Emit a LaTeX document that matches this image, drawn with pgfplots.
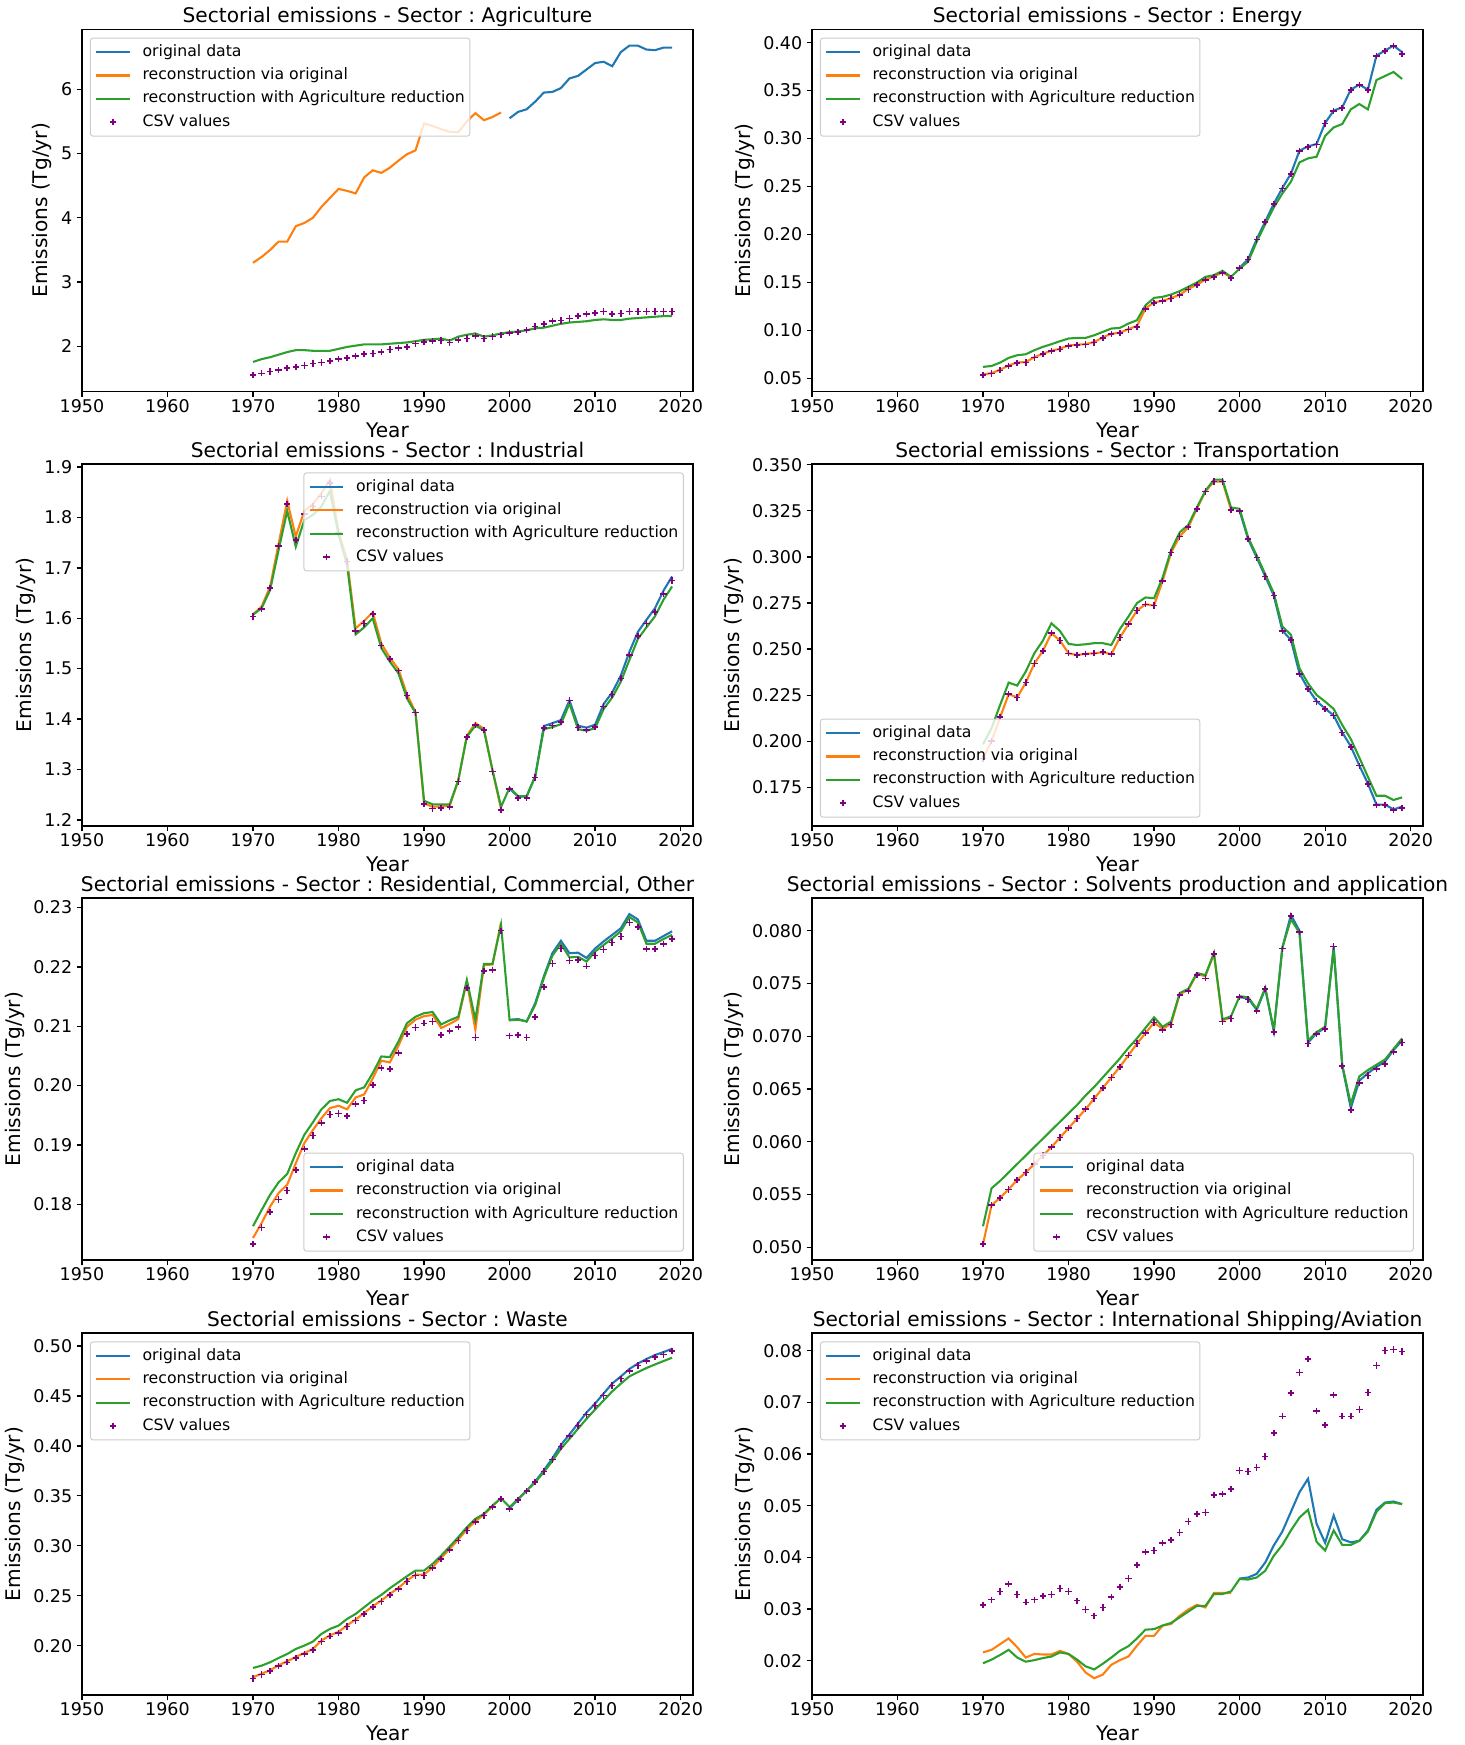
\documentclass[border=0pt]{standalone}
\usepackage{fontspec}
\setmainfont{DejaVu Sans}
\usepackage{pgfplots}
\usepackage{pgfplotstable}
\pgfplotsset{compat=1.18}
\frenchspacing
\definecolor{mblue}{HTML}{1F77B4}
\definecolor{morange}{HTML}{FF7F0E}
\definecolor{mgreen}{HTML}{2CA02C}
\definecolor{mpurple}{HTML}{800080}
\definecolor{legframe}{HTML}{CCCCCC}

\pgfplotsset{
  panel/.style={
    scale only axis, width=440pt, height=260.6pt, anchor=north west,
    xmin=1950, xmax=2021.45, xtick={1950,1960,1970,1980,1990,2000,2010,2020},
    tick align=outside, tick pos=left, major tick length=3.9pt,
    every tick/.style={black, line width=0.9pt},
    axis line style={line width=0.9pt},
    scaled ticks=false,
    /pgf/number format/assume math mode=true,
    xticklabel style={/pgf/number format/set thousands separator={}, inner ysep=1.5pt},
    yticklabel style={inner xsep=2.9pt},
    tick label style={font=\fontsize{12.6}{14}\selectfont},
    label style={font=\fontsize{14.5}{16}\selectfont},
    title style={font=\fontsize{14.5}{16}\selectfont, at={(0.5,1)}, anchor=base, yshift=-1.2pt},
    xlabel={Year}, ylabel={Emissions (Tg/yr)},
    xlabel style={at={(axis description cs:0.5,0)}, anchor=base, yshift=-33pt},
    legend cell align=left,
    legend image code/.code={\draw[mark repeat=2,mark phase=2,#1] plot coordinates {(0cm,0cm) (0.42cm,0cm) (0.84cm,0cm)};},
    legend style={draw=legframe, line width=0.7pt, rounded corners=2pt, fill=white, fill opacity=0.8, text opacity=1,
      font=\fontsize{11.3}{13}\selectfont, inner xsep=3.6pt, inner ysep=4.6pt, row sep=5.8pt, column sep=8.6pt,
      nodes={inner sep=0pt, text height=8.5pt, text depth=2.5pt}},
  },
  legUL/.style={legend style={at={(0.013,0.977)}, anchor=north west}},
  legUR/.style={legend style={at={(0.985,0.977)}, anchor=north east}},
  legLL/.style={legend style={at={(0.013,0.023)}, anchor=south west}},
  legLR/.style={legend style={at={(0.985,0.023)}, anchor=south east}},
  ln/.style={line width=1.5pt},
  csvm/.style={mpurple, only marks, mark=+, mark size=2.3pt, line width=1.1pt},
}

\pgfplotstableread{
yr csv grn org blu
1970 1.55 1.756 3.30 nan
1971 1.58 1.80 3.39 nan
1972 1.61 1.83 3.50 nan
1973 1.63 1.87 3.63 nan
1974 1.66 1.91 3.63 nan
1975 1.68 1.94 3.87 nan
1976 1.70 1.94 3.92 nan
1977 1.73 1.93 4.00 nan
1978 1.75 1.93 4.17 nan
1979 1.77 1.93 4.31 nan
1980 1.80 1.96 4.45 nan
1981 1.82 1.99 4.42 nan
1982 1.85 2.01 4.38 nan
1983 1.88 2.03 4.63 nan
1984 1.89 2.03 4.74 nan
1985 1.91 2.03 4.70 nan
1986 1.95 2.04 4.78 nan
1987 1.97 2.05 4.89 nan
1988 1.99 2.06 4.99 nan
1989 2.04 2.08 5.05 nan
1990 2.07 2.10 5.47 nan
1991 2.08 2.11 5.43 nan
1992 2.09 2.12 5.38 nan
1993 2.06 2.09 5.34 nan
1994 2.10 2.15 5.33 nan
1995 2.12 2.18 5.50 nan
1996 2.16 2.20 5.63 nan
1997 2.12 2.15 5.52 nan
1998 2.15 2.17 5.57 nan
1999 2.18 2.20 5.64 nan
2000 2.21 2.22 nan 5.55
2001 2.22 2.23 nan 5.65
2002 2.25 2.25 nan 5.69
2003 2.31 2.28 nan 5.81
2004 2.35 2.29 nan 5.95
2005 2.39 2.32 nan 5.96
2006 2.40 2.35 nan 6.02
2007 2.43 2.37 nan 6.17
2008 2.47 2.38 nan 6.21
2009 2.50 2.39 nan 6.31
2010 2.52 2.41 nan 6.41
2011 2.54 2.42 nan 6.43
2012 2.50 2.41 nan 6.36
2013 2.51 2.41 nan 6.58
2014 2.54 2.43 nan 6.68
2015 2.54 2.44 nan 6.68
2016 2.54 2.45 nan 6.62
2017 2.54 2.46 nan 6.61
2018 2.54 2.47 nan 6.65
2019 2.54 2.47 nan 6.65
}\tAgri

\pgfplotstableread{
yr csv grn org blu
1970 0.0534 0.0618 0.0540 nan
1971 0.0548 0.0628 0.0553 nan
1972 0.0583 0.0663 0.0588 nan
1973 0.0628 0.0712 0.0633 nan
1974 0.0660 0.0740 0.0665 nan
1975 0.0663 0.0750 0.0668 nan
1976 0.0715 0.0792 0.0720 nan
1977 0.0750 0.0827 0.0755 nan
1978 0.0782 0.0855 0.0787 nan
1979 0.0802 0.0886 0.0807 nan
1980 0.0837 0.0914 0.0842 nan
1981 0.0844 0.0921 0.0849 nan
1982 0.0851 0.0921 0.0856 nan
1983 0.0872 0.0948 0.0877 nan
1984 0.0921 0.0983 0.0926 nan
1985 0.0959 0.1018 0.0964 nan
1986 0.0969 0.1025 0.0974 nan
1987 0.1008 0.1070 0.1013 nan
1988 0.1036 0.1105 0.1045 nan
1989 0.1223 0.1261 0.1228 nan
1990 0.1286 0.1338 0.1291 nan
1991 0.1303 0.1349 0.1308 nan
1992 0.1331 0.1373 0.1336 nan
1993 0.1366 0.1408 0.1371 nan
1994 0.1425 0.1453 0.1430 nan
1995 0.1470 0.1498 0.1475 nan
1996 0.1523 0.1557 0.1528 nan
1997 0.1557 0.1575 0.1562 nan
1998 0.1599 0.1620 0.1604 nan
1999 0.1547 0.1557 0.1552 nan
2000 0.1651 0.1644 nan 0.1653
2001 0.1738 0.1716 nan 0.1741
2002 0.1947 0.1923 nan 0.1950
2003 0.2131 0.2107 nan 0.2135
2004 0.2316 0.2281 nan 0.2320
2005 0.2479 0.2427 nan 0.2483
2006 0.2629 0.2549 nan 0.2633
2007 0.2869 0.2751 nan 0.2873
2008 0.2914 0.2793 nan 0.2918
2009 0.2939 0.2810 nan 0.2943
2010 0.3158 0.3026 nan 0.3162
2011 0.3287 0.3116 nan 0.3291
2012 0.3321 0.3151 nan 0.3325
2013 0.3506 0.3304 nan 0.3510
2014 0.3558 0.3360 nan 0.3562
2015 0.3506 0.3304 nan 0.3510
2016 0.3861 0.3610 nan 0.3865
2017 0.3913 0.3652 nan 0.3917
2018 0.3965 0.3694 nan 0.3969
2019 0.3882 0.3621 nan 0.3900
}\tEner

\pgfplotstableread{
yr csv grn org blu
1970 1.6035 1.607 1.608 nan
1971 1.6187 1.620 1.623 nan
1972 1.6598 1.656 1.663 nan
1973 1.7438 1.736 1.748 nan
1974 1.8272 1.813 1.833 nan
1975 1.7557 1.742 1.762 nan
1976 1.8073 1.795 1.813 nan
1977 1.822 1.805 1.827 nan
1978 1.842 1.822 1.848 nan
1979 1.868 1.853 1.875 nan
1980 1.769 1.766 1.772 nan
1981 1.713 1.706 1.716 nan
1982 1.575 1.568 1.580 nan
1983 1.590 1.582 1.595 nan
1984 1.608 1.600 1.612 nan
1985 1.546 1.541 1.550 nan
1986 1.519 1.514 1.522 nan
1987 1.496 1.491 1.499 nan
1988 1.447 1.441 1.449 nan
1989 1.413 1.412 1.414 nan
1990 1.232 1.238 1.233 nan
1991 1.223 1.231 1.226 nan
1992 1.224 1.231 1.227 nan
1993 1.226 1.231 1.228 nan
1994 1.276 1.279 1.278 nan
1995 1.364 1.365 1.367 nan
1996 1.388 1.387 1.392 nan
1997 1.378 1.378 1.381 nan
1998 1.296 1.299 1.298 nan
1999 1.220 1.226 1.222 nan
2000 1.261 1.264 nan 1.262
2001 1.243 1.247 nan 1.246
2002 1.244 1.247 nan 1.247
2003 1.284 1.286 nan 1.287
2004 1.382 1.380 nan 1.386
2005 1.387 1.384 nan 1.392
2006 1.394 1.390 nan 1.398
2007 1.437 1.431 nan 1.437
2008 1.383 1.380 nan 1.387
2009 1.378 1.377 nan 1.383
2010 1.384 1.382 nan 1.389
2011 1.425 1.420 nan 1.430
2012 1.449 1.443 nan 1.453
2013 1.481 1.474 nan 1.486
2014 1.527 1.517 nan 1.533
2015 1.565 1.559 nan 1.573
2016 1.590 1.582 nan 1.597
2017 1.613 1.604 nan 1.620
2018 1.648 1.637 nan 1.655
2019 1.675 1.663 nan 1.683
}\tIndu

\pgfplotstableread{
yr csv grn org blu
1970 0.1907 0.1983 0.1907 nan
1971 0.2001 0.2070 0.2001 nan
1972 0.2130 0.2197 0.2130 nan
1973 0.2255 0.2318 0.2255 nan
1974 0.2238 0.2302 0.2238 nan
1975 0.2318 0.2378 0.2318 nan
1976 0.2421 0.2477 0.2421 nan
1977 0.2490 0.2546 0.2490 nan
1978 0.2586 0.2640 0.2586 nan
1979 0.2546 0.2598 0.2546 nan
1980 0.2477 0.2528 0.2477 nan
1981 0.2468 0.2522 0.2468 nan
1982 0.2474 0.2526 0.2474 nan
1983 0.2477 0.2532 0.2477 nan
1984 0.2483 0.2532 0.2483 nan
1985 0.2472 0.2522 0.2472 nan
1986 0.2562 0.2608 0.2562 nan
1987 0.2635 0.2676 0.2635 nan
1988 0.2709 0.2749 0.2709 nan
1989 0.2743 0.2780 0.2743 nan
1990 0.2736 0.2776 0.2736 nan
1991 0.2870 0.2888 0.2870 nan
1992 0.3024 0.3038 0.3024 nan
1993 0.3111 0.3133 0.3111 nan
1994 0.3161 0.3174 0.3161 nan
1995 0.3261 0.3268 0.3261 nan
1996 0.3355 0.3359 0.3355 nan
1997 0.3409 0.3419 0.3409 nan
1998 0.3409 0.3419 0.3409 nan
1999 0.3256 0.3268 0.3256 nan
2000 0.3250 0.3261 nan 0.3250
2001 0.3096 0.3105 nan 0.3096
2002 0.2997 0.3008 nan 0.2997
2003 0.2894 0.2906 nan 0.2894
2004 0.2790 0.2803 nan 0.2790
2005 0.2598 0.2622 nan 0.2600
2006 0.2550 0.2578 nan 0.2550
2007 0.2365 0.2396 nan 0.2368
2008 0.2283 0.2314 nan 0.2285
2009 0.2215 0.2251 nan 0.2217
2010 0.2175 0.2215 nan 0.2177
2011 0.2139 0.2175 nan 0.2140
2012 0.2046 0.2088 nan 0.2048
2013 0.1970 0.2012 nan 0.1972
2014 0.1867 0.1911 nan 0.1868
2015 0.1768 0.1807 nan 0.1770
2016 0.1654 0.1704 nan 0.1656
2017 0.1654 0.1704 nan 0.1656
2018 0.1626 0.1681 nan 0.1630
2019 0.1639 0.1695 nan 0.1645
}\tTran

\pgfplotstableread{
yr csv grn org blu
1970 0.1733 0.1763 0.1743 nan
1971 0.1761 0.1790 0.1768 nan
1972 0.1787 0.1816 0.1796 nan
1973 0.1808 0.1837 0.1819 nan
1974 0.1823 0.1851 0.1833 nan
1975 0.1858 0.1886 0.1869 nan
1976 0.1893 0.1917 0.1903 nan
1977 0.1916 0.1938 0.1925 nan
1978 0.1937 0.1960 0.1945 nan
1979 0.1951 0.1974 0.1962 nan
1980 0.1953 0.1977 0.1966 nan
1981 0.1949 0.1971 0.1960 nan
1982 0.1969 0.1992 0.1980 nan
1983 0.1975 0.1997 0.1985 nan
1984 0.2001 0.2021 0.2012 nan
1985 0.2030 0.2049 0.2042 nan
1986 0.2028 0.2048 0.2039 nan
1987 0.2055 0.2074 0.2067 nan
1988 0.2087 0.2105 0.2099 nan
1989 0.2098 0.2116 0.2111 nan
1990 0.2105 0.2122 0.2117 nan
1991 0.2108 0.2124 0.2119 nan
1992 0.2085 0.2103 0.2097 nan
1993 0.2092 0.2110 0.2104 nan
1994 0.2099 0.2116 0.2112 nan
1995 0.2164 0.2178 0.2175 nan
1996 0.2081 0.2111 0.2094 nan
1997 0.2193 0.2205 0.2203 nan
1998 0.2195 0.2205 0.2204 nan
1999 0.2261 0.2271 0.2275 nan
2000 0.2084 0.2110 nan 0.2111
2001 0.2085 0.2111 nan 0.2112
2002 0.2081 0.2108 nan 0.2108
2003 0.2116 0.2136 nan 0.2139
2004 0.2166 0.2181 nan 0.2184
2005 0.2206 0.2219 nan 0.2223
2006 0.2231 0.2239 nan 0.2244
2007 0.2211 0.2216 nan 0.2223
2008 0.2212 0.2217 nan 0.2224
2009 0.2201 0.2209 nan 0.2215
2010 0.2219 0.2226 nan 0.2231
2011 0.2229 0.2237 nan 0.2243
2012 0.2241 0.2248 nan 0.2254
2013 0.2251 0.2260 nan 0.2265
2014 0.2275 0.2284 nan 0.2289
2015 0.2267 0.2275 nan 0.2280
2016 0.2230 0.2239 nan 0.2244
2017 0.2230 0.2239 nan 0.2244
2018 0.2239 0.2247 nan 0.2252
2019 0.2247 0.2254 nan 0.2260
}\tResi

\pgfplotstableread{
yr csv grn org blu
1970 0.0503 0.0520 0.0503 nan
1971 0.0540 0.0556 0.0540 nan
1972 0.0547 0.0563 0.0547 nan
1973 0.0555 0.0571 0.0555 nan
1974 0.0564 0.0579 0.0564 nan
1975 0.0571 0.0587 0.0571 nan
1976 0.0579 0.0595 0.0579 nan
1977 0.0587 0.0603 0.0587 nan
1978 0.0595 0.0611 0.0595 nan
1979 0.0604 0.0619 0.0604 nan
1980 0.0613 0.0627 0.0613 nan
1981 0.0622 0.0635 0.0622 nan
1982 0.0631 0.0644 0.0631 nan
1983 0.0641 0.0652 0.0641 nan
1984 0.0651 0.0661 0.0651 nan
1985 0.0661 0.0670 0.0661 nan
1986 0.0671 0.0679 0.0671 nan
1987 0.0682 0.0689 0.0682 nan
1988 0.0693 0.0698 0.0693 nan
1989 0.0703 0.0708 0.0703 nan
1990 0.0713 0.0718 0.0713 nan
1991 0.0706 0.0709 0.0707 nan
1992 0.0711 0.0714 0.0712 nan
1993 0.0739 0.0741 0.0740 nan
1994 0.0743 0.0745 0.0744 nan
1995 0.0758 0.0760 0.0759 nan
1996 0.0755 0.0758 0.0757 nan
1997 0.0778 0.0779 0.0778 nan
1998 0.0714 0.0716 0.0715 nan
1999 0.0717 0.0719 0.0718 nan
2000 0.0737 0.0738 nan 0.0737
2001 0.0735 0.0737 nan 0.0736
2002 0.0724 0.0726 nan 0.0725
2003 0.0745 0.0746 nan 0.0745
2004 0.0704 0.0706 nan 0.0705
2005 0.0783 0.0784 nan 0.0784
2006 0.0814 0.0811 nan 0.0815
2007 0.0799 0.0798 nan 0.0800
2008 0.0693 0.0696 nan 0.0694
2009 0.0702 0.0704 nan 0.0703
2010 0.0707 0.0709 nan 0.0708
2011 0.0785 0.0783 nan 0.0785
2012 0.0672 0.0673 nan 0.0672
2013 0.0630 0.0636 nan 0.0632
2014 0.0656 0.0662 nan 0.0658
2015 0.0663 0.0668 nan 0.0665
2016 0.0669 0.0673 nan 0.0671
2017 0.0674 0.0678 nan 0.0676
2018 0.0685 0.0688 nan 0.0687
2019 0.0694 0.0698 nan 0.0696
}\tSolv

\pgfplotstableread{
yr csv grn org blu
1970 0.1673 0.1777 0.1683 nan
1971 0.1710 0.1800 0.1720 nan
1972 0.1744 0.1834 0.1754 nan
1973 0.1794 0.1877 0.1804 nan
1974 0.1834 0.1917 0.1844 nan
1975 0.1877 0.1967 0.1887 nan
1976 0.1917 0.2001 0.1927 nan
1977 0.1957 0.2041 0.1967 nan
1978 0.2041 0.2118 0.2051 nan
1979 0.2094 0.2168 0.2104 nan
1980 0.2128 0.2201 0.2138 nan
1981 0.2194 0.2268 0.2204 nan
1982 0.2251 0.2318 0.2261 nan
1983 0.2318 0.2385 0.2328 nan
1984 0.2385 0.2452 0.2395 nan
1985 0.2442 0.2508 0.2452 nan
1986 0.2508 0.2575 0.2518 nan
1987 0.2568 0.2635 0.2578 nan
1988 0.2642 0.2695 0.2652 nan
1989 0.2702 0.2752 0.2712 nan
1990 0.2702 0.2752 0.2712 nan
1991 0.2776 0.2819 0.2786 nan
1992 0.2869 0.2902 0.2879 nan
1993 0.2959 0.2993 0.2969 nan
1994 0.3053 0.3086 0.3063 nan
1995 0.3153 0.3186 0.3163 nan
1996 0.3236 0.3270 0.3246 nan
1997 0.3303 0.3320 0.3313 nan
1998 0.3387 0.3403 0.3397 nan
1999 0.3470 0.3477 0.3480 nan
2000 0.3370 0.3387 nan 0.3375
2001 0.3460 0.3470 nan 0.3465
2002 0.3547 0.3554 nan 0.3552
2003 0.3637 0.3637 nan 0.3645
2004 0.3744 0.3738 nan 0.3755
2005 0.3864 0.3848 nan 0.3875
2006 0.3995 0.3971 nan 0.4010
2007 0.4098 0.4071 nan 0.4115
2008 0.4205 0.4172 nan 0.4225
2009 0.4315 0.4272 nan 0.4335
2010 0.4405 0.4365 nan 0.4425
2011 0.4506 0.4456 nan 0.4525
2012 0.4606 0.4546 nan 0.4625
2013 0.4673 0.4623 nan 0.4695
2014 0.4750 0.4696 nan 0.4770
2015 0.4806 0.4739 nan 0.4825
2016 0.4850 0.4780 nan 0.4870
2017 0.4890 0.4816 nan 0.4910
2018 0.4917 0.4850 nan 0.4940
2019 0.4950 0.4883 nan 0.4973
}\tWast

\pgfplotstableread{
yr csv grn org blu
1970 0.0308 0.0195 0.0216 nan
1971 0.0318 0.0202 0.0221 nan
1972 0.0334 0.0211 0.0232 nan
1973 0.0348 0.0221 0.0243 nan
1974 0.0328 0.0206 0.0226 nan
1975 0.0313 0.0198 0.0206 nan
1976 0.0318 0.0201 0.0213 nan
1977 0.0325 0.0205 0.0212 nan
1978 0.0328 0.0208 0.0212 nan
1979 0.0340 0.0216 0.0219 nan
1980 0.0334 0.0213 0.0213 nan
1981 0.0316 0.0202 0.0198 nan
1982 0.0299 0.0189 0.0177 nan
1983 0.0287 0.0183 0.0166 nan
1984 0.0303 0.0194 0.0173 nan
1985 0.0323 0.0206 0.0192 nan
1986 0.0343 0.0219 0.0201 nan
1987 0.0359 0.0228 0.0208 nan
1988 0.0385 0.0243 0.0229 nan
1989 0.0410 0.0260 0.0248 nan
1990 0.0413 0.0261 0.0248 nan
1991 0.0428 0.0268 0.0268 nan
1992 0.0434 0.0273 0.0271 nan
1993 0.0448 0.0284 0.0287 nan
1994 0.0469 0.0295 0.0299 nan
1995 0.0484 0.0306 0.0308 nan
1996 0.0487 0.0306 0.0303 nan
1997 0.0521 0.0329 0.0331 nan
1998 0.0523 0.0329 0.0331 nan
1999 0.0532 0.0334 0.0331 nan
2000 0.0568 0.0358 nan 0.0359
2001 0.0566 0.0357 nan 0.0361
2002 0.0574 0.0361 nan 0.0368
2003 0.0595 0.0374 nan 0.0390
2004 0.0641 0.0403 nan 0.0423
2005 0.0673 0.0424 nan 0.0450
2006 0.0718 0.0452 nan 0.0488
2007 0.0758 0.0477 nan 0.0526
2008 0.0784 0.0492 nan 0.0552
2009 0.0683 0.0430 nan 0.0465
2010 0.0656 0.0413 nan 0.0428
2011 0.0714 0.0452 nan 0.0481
2012 0.0673 0.0424 nan 0.0435
2013 0.0673 0.0424 nan 0.0429
2014 0.0686 0.0432 nan 0.0432
2015 0.0719 0.0450 nan 0.0452
2016 0.0771 0.0488 nan 0.0492
2017 0.0800 0.0505 nan 0.0506
2018 0.0802 0.0506 nan 0.0508
2019 0.0798 0.0503 nan 0.0503
}\tIntl

\newcommand{\fourplots}[1]{%
  \addplot[mblue, ln] table[x=yr,y=blu]{#1};
  \addplot[morange, ln] table[x=yr,y=org]{#1};
  \addplot[mgreen, ln] table[x=yr,y=grn]{#1};
  \addplot[csvm] table[x=yr,y=csv]{#1};
  \legend{original data, reconstruction via original, reconstruction with Agriculture reduction, CSV values}
}

\begin{document}
\begin{tikzpicture}
\path[use as bounding box, fill=white] (0,0) rectangle (1054.8pt,-1256.4pt);

\begin{axis}[panel, legUL, at={(59pt,-21.1pt)},
  title={Sectorial emissions - Sector : Agriculture},
  ymin=1.30, ymax=6.935, ytick={2,3,4,5,6}]
\fourplots{\tAgri}
\end{axis}

\begin{axis}[panel, legUL, at={(584.6pt,-21.1pt)},
  title={Sectorial emissions - Sector : Energy},
  ymin=0.0364, ymax=0.4139, ytick={0.05,0.10,0.15,0.20,0.25,0.30,0.35,0.40},
  yticklabel style={/pgf/number format/.cd, fixed, fixed zerofill, precision=2}]
\fourplots{\tEner}
\end{axis}

\begin{axis}[panel, legUR, at={(59pt,-334.1pt)},
  title={Sectorial emissions - Sector : Industrial},
  ymin=1.188, ymax=1.906, ytick={1.2,1.3,1.4,1.5,1.6,1.7,1.8,1.9},
  yticklabel style={/pgf/number format/.cd, fixed, fixed zerofill, precision=1}]
\fourplots{\tIndu}
\end{axis}

\begin{axis}[panel, legLL, at={(584.6pt,-334.1pt)},
  title={Sectorial emissions - Sector : Transportation},
  ymin=0.154, ymax=0.3504, ytick={0.175,0.200,0.225,0.250,0.275,0.300,0.325,0.350},
  yticklabel style={/pgf/number format/.cd, fixed, fixed zerofill, precision=3}]
\fourplots{\tTran}
\end{axis}

\begin{axis}[panel, legLR, at={(59pt,-646.6pt)},
  title={Sectorial emissions - Sector : Residential, Commercial, Other},
  ymin=0.1706, ymax=0.2316, ytick={0.18,0.19,0.20,0.21,0.22,0.23},
  yticklabel style={/pgf/number format/.cd, fixed, fixed zerofill, precision=2}]
\fourplots{\tResi}
\end{axis}

\begin{axis}[panel, legLR, at={(584.6pt,-646.6pt)},
  title={Sectorial emissions - Sector : Solvents production and application},
  ymin=0.0488, ymax=0.0831, ytick={0.050,0.055,0.060,0.065,0.070,0.075,0.080},
  yticklabel style={/pgf/number format/.cd, fixed, fixed zerofill, precision=3}]
\fourplots{\tSolv}
\end{axis}

\begin{axis}[panel, legUL, at={(59pt,-959.8pt)},
  title={Sectorial emissions - Sector : Waste},
  ymin=0.1506, ymax=0.513, ytick={0.20,0.25,0.30,0.35,0.40,0.45,0.50},
  yticklabel style={/pgf/number format/.cd, fixed, fixed zerofill, precision=2}]
\fourplots{\tWast}
\end{axis}

\begin{axis}[panel, legUL, at={(584.6pt,-959.8pt)},
  title={Sectorial emissions - Sector : International Shipping/Aviation},
  ymin=0.01335, ymax=0.0834, ytick={0.02,0.03,0.04,0.05,0.06,0.07,0.08},
  yticklabel style={/pgf/number format/.cd, fixed, fixed zerofill, precision=2}]
\fourplots{\tIntl}
\end{axis}
\end{tikzpicture}
\end{document}
